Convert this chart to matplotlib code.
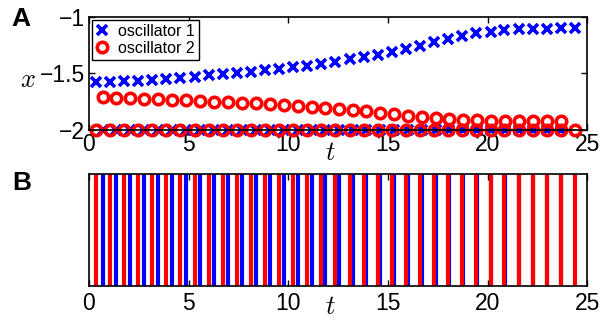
import matplotlib
matplotlib.use("Agg")
import matplotlib.pyplot as plt

plt.rcParams['font.family'] = ['Liberation Sans', 'DejaVu Sans']
plt.rcParams['mathtext.fontset'] = 'cm'

# firing times of oscillator 2 (red lines in B); x1 sampled at these times
t_a = [0.35, 1.06, 1.76, 2.47, 3.18, 3.89, 4.59, 5.30, 6.01, 6.71,
       7.42, 8.13, 8.83, 9.54, 10.25, 10.96, 11.66, 12.37, 13.08, 13.78,
       14.49, 15.20, 15.90, 16.61, 17.32, 18.03, 18.73, 19.44, 20.15, 20.85,
       21.56, 22.27, 22.97, 23.68, 24.39]
x1_at_a = [-1.580, -1.575, -1.568, -1.563, -1.557, -1.549, -1.538, -1.528, -1.515, -1.505,
           -1.494, -1.484, -1.474, -1.462, -1.447, -1.433, -1.416, -1.398, -1.376, -1.358,
           -1.335, -1.308, -1.282, -1.254, -1.225, -1.197, -1.170, -1.146, -1.130, -1.117,
           -1.110, -1.106, -1.104, -1.102, -1.100]

# firing times of oscillator 1 (blue lines in B); x2 sampled at these times
t_b = [0.69, 1.38, 2.07, 2.77, 3.48, 4.18, 4.88, 5.58, 6.28, 6.98,
       7.68, 8.38, 9.07, 9.77, 10.47, 11.17, 11.86, 12.55, 13.24, 13.92,
       14.61, 15.30, 15.99, 16.69, 17.39, 18.09, 18.78, 19.49, 20.19, 20.89,
       21.60, 22.30, 23.00, 23.71]
x2_at_b = [-1.712, -1.714, -1.718, -1.723, -1.728, -1.733, -1.738, -1.743, -1.749, -1.755,
           -1.760, -1.766, -1.772, -1.779, -1.787, -1.795, -1.803, -1.813, -1.823, -1.836,
           -1.849, -1.860, -1.873, -1.885, -1.894, -1.902, -1.909, -1.914, -1.917, -1.918,
           -1.919, -1.920, -1.920, -1.920]

x_reset = -2.0
xticks = [0, 5, 10, 15, 20, 25]
yticks = [-2, -1.5, -1]
ytick_labels = ['\u22122', '\u22121.5', '\u22121']

fig = plt.figure(figsize=(6.01, 3.24), dpi=100)
axA = fig.add_axes([0.148, 0.599, 0.829, 0.349])
axB = fig.add_axes([0.148, 0.117, 0.829, 0.346])

mk = dict(linestyle='none', markersize=7.5, markeredgewidth=2.6, clip_on=False)

# panel A
axA.plot(t_a, x1_at_a, marker='x', color='#0000ff', label='oscillator 1', **mk)
axA.plot(t_b, [x_reset] * len(t_b), marker='x', color='#0000ff', **mk)
axA.plot(t_b, x2_at_b, marker='o', color='#ff0000', markerfacecolor='none',
         label='oscillator 2', **mk)
axA.plot(t_a, [x_reset] * len(t_a), marker='o', color='#ff0000', markerfacecolor='none', **mk)

axA.set_xlim(0, 25)
axA.set_ylim(-2, -1)
axA.set_xticks(xticks)
axA.set_yticks(yticks)
axA.set_yticklabels(ytick_labels)
axA.text(-0.122, 0.44, '$x$', transform=axA.transAxes, ha='center', va='center', fontsize=19)
axA.text(0.484, -0.2, '$t$', transform=axA.transAxes, ha='center', va='center', fontsize=19)

leg = axA.legend(loc='upper left', bbox_to_anchor=(0.006, 0.975), fontsize=11.5,
                 handlelength=0.8, handletextpad=0.6, labelspacing=0.15,
                 borderpad=0.25, borderaxespad=0, fancybox=False, framealpha=1)
leg.get_frame().set_edgecolor('black')
leg.get_frame().set_linewidth(1.0)

# panel B
axB.vlines(t_b, 0, 1, color='#0000ff', linewidth=3)
axB.vlines(t_a, 0, 1, color='#ff0000', linewidth=3)
axB.set_xlim(0, 25)
axB.set_ylim(0, 1)
axB.set_xticks(xticks)
axB.set_yticks([])
axB.text(0.484, -0.19, '$t$', transform=axB.transAxes, ha='center', va='center', fontsize=19)

for ax in (axA, axB):
    ax.tick_params(direction='in', top=True, right=True, labelsize=16.5, length=4, width=1, pad=3)
    for s in ax.spines.values():
        s.set_linewidth(1.2)

axA.tick_params(axis='x', pad=2)
axB.tick_params(axis='x', pad=4)

fig.text(0.035, 0.94, 'A', fontsize=19, fontweight='bold', ha='center', va='center')
fig.text(0.037, 0.435, 'B', fontsize=19, fontweight='bold', ha='center', va='center')

fig.savefig('out.png', dpi=100)
